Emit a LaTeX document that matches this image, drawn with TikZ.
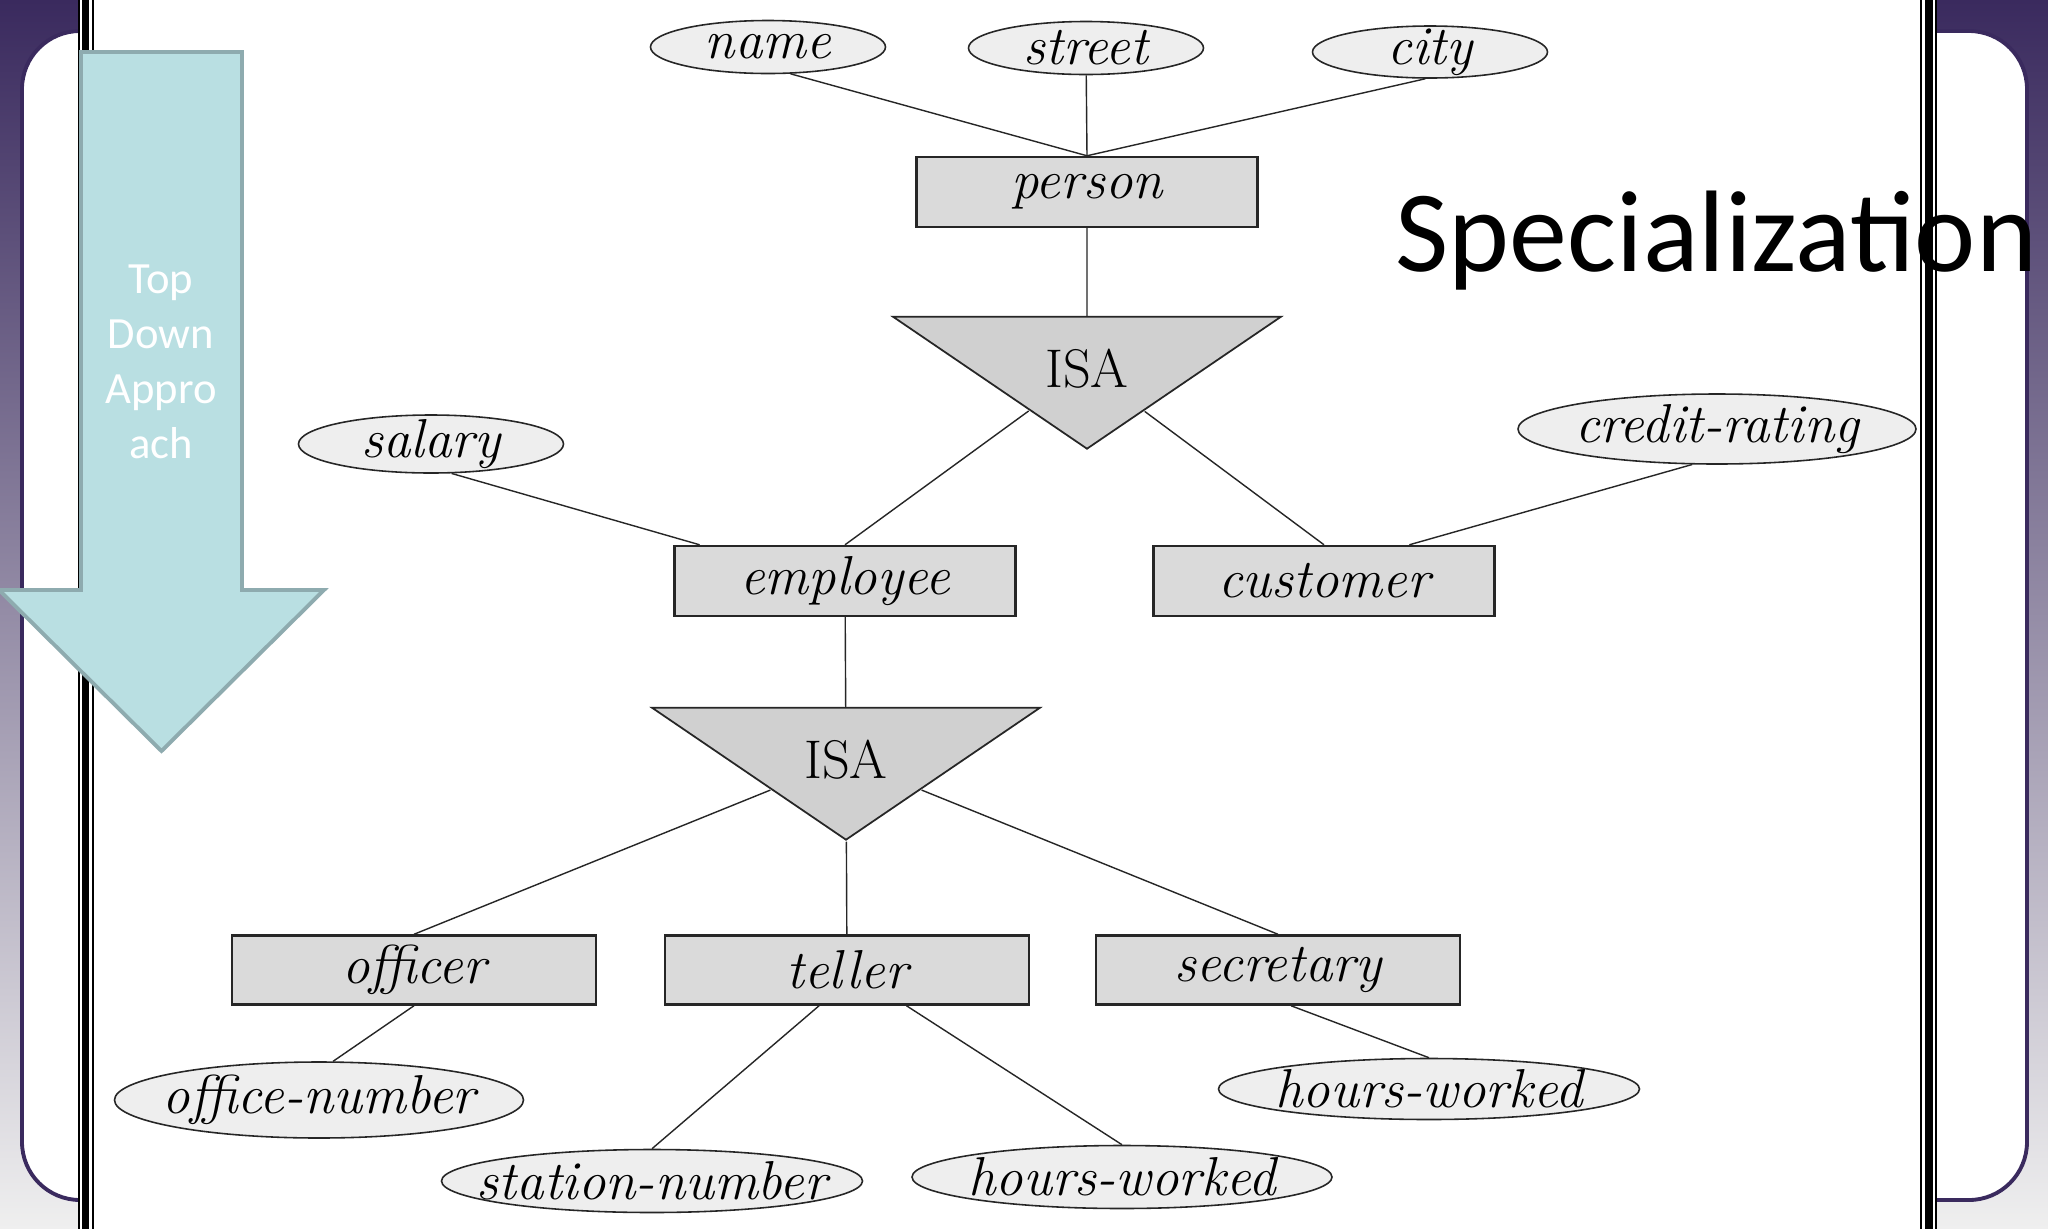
\documentclass[tikz,border=0pt]{standalone}
\usepackage{fontspec}
\usepackage{tikz}
\usetikzlibrary{arrows.meta,positioning,shapes.geometric}
\newfontfamily\slidefont{Carlito}
\definecolor{Plum}{HTML}{3A2A5E}
\definecolor{PaleSlide}{HTML}{EFEFEF}
\definecolor{EntGrey}{HTML}{DADADA}
\definecolor{IsaGrey}{HTML}{D0D0D0}
\definecolor{AttGrey}{HTML}{EEEEEE}
\definecolor{ArrowFill}{HTML}{B9DFE2}
\definecolor{ArrowEdge}{HTML}{8EABAF}

\begin{document}
\begin{tikzpicture}[
  ent/.style={draw=black!85,line width=0.7pt,fill=EntGrey,minimum width=3.41cm,
    minimum height=0.7cm,inner sep=0pt,font=\fontsize{15.6}{17}\selectfont\itshape},
  att/.style={ellipse,draw=black!85,line width=0.45pt,fill=AttGrey,inner xsep=-1cm,
    inner ysep=-0.2cm,font=\fontsize{15.6}{17}\selectfont\itshape},
  isa/.style={isosceles triangle,isosceles triangle stretches,shape border rotate=270,
    draw=black!85,line width=0.5pt,fill=IsaGrey,minimum width=3.88cm,
    minimum height=1.32cm,inner sep=-4pt,font=\fontsize{15.5}{17}\selectfont},
  lnk/.style={draw=black!85,line width=0.4pt},
  bigarr/.style={fill=ArrowFill,draw=ArrowEdge,line width=1.1pt,line join=miter}
]
  \useasboundingbox (0,0) rectangle (20.48,-12.29);

  % slide frame
  \shade[top color=Plum,middle color=Plum!45!PaleSlide,bottom color=PaleSlide]
    (0,0) rectangle (20.48,-12.29);
  \draw[Plum,fill=white,line width=1.1pt,rounded corners=0.58cm]
    (0.22,-0.31) rectangle (20.27,-12.0);
  \fill[white] (0.78,0) rectangle (19.37,-12.29);
  \foreach \x/\w in {0.79/0.02,0.855/0.07,0.93/0.02,19.21/0.02,19.29/0.08,19.36/0.02}
    \draw[line width=\w cm] (\x,0) -- (\x,-12.29);

  % top level
  \node[att,minimum width=2.35cm,minimum height=0.53cm] (name) at (7.68,-0.47) {name};
  \node[att,minimum width=2.35cm,minimum height=0.53cm] (street) at (10.86,-0.48) {street};
  \node[att,minimum width=2.35cm,minimum height=0.52cm] (city) at (14.30,-0.52) {city};
  \node[ent] (person) at (10.87,-1.92) {person};
  \node[isa,anchor=apex] (isa1) at (10.87,-4.51) {ISA};
  \draw[lnk] (name.-50) -- (person.north);
  \draw[lnk] (street) -- (person.north);
  \draw[lnk] (city.-100) -- (person.north);
  \draw[lnk] (person) -- (isa1);

  % second level
  \node[att,minimum width=2.65cm,minimum height=0.58cm] (salary) at (4.31,-4.44) {salary};
  \node[att,minimum width=3.98cm,minimum height=0.70cm] (credit) at (17.17,-4.29) {credit-rating};
  \node[ent] (emp) at (8.45,-5.81) {employee};
  \node[ent] (cust) at (13.24,-5.81) {customer};
  \draw[lnk] (isa1) -- (emp.north);
  \draw[lnk] (isa1) -- (cust.north);
  \draw[lnk] (salary.-55) -- (emp.166);
  \draw[lnk] (credit.-125) -- (cust.23);

  % third level
  \node[isa,anchor=apex] (isa2) at (8.46,-8.42) {ISA};
  \node[ent,minimum width=3.64cm,minimum height=0.69cm] (officer) at (4.14,-9.70) {officer};
  \node[ent,minimum width=3.64cm,minimum height=0.69cm] (teller) at (8.47,-9.70) {teller};
  \node[ent,minimum width=3.64cm,minimum height=0.69cm] (sec) at (12.78,-9.70) {secretary};
  \draw[lnk] (emp) -- (isa2);
  \draw[lnk] (isa2) -- (officer.north);
  \draw[lnk] (isa2) -- (teller);
  \draw[lnk] (isa2) -- (sec.north);

  % attributes of the specialised sets
  \node[att,minimum width=4.09cm,minimum height=0.76cm] (onum) at (3.19,-11.00) {office-number};
  \node[att,minimum width=4.21cm,minimum height=0.63cm] (snum) at (6.52,-11.81) {station-number};
  \node[att,minimum width=4.20cm,minimum height=0.63cm] (hwa) at (11.22,-11.77) {hours-worked};
  \node[att,minimum width=4.21cm,minimum height=0.61cm] (hwb) at (14.29,-10.89) {hours-worked};
  \draw[lnk] (officer.south) -- (onum.70);
  \draw[lnk] (teller.232) -- (snum.north);
  \draw[lnk] (teller.329) -- (hwa.north);
  \draw[lnk] (sec.290) -- (hwb.north);

  % direction arrow and title
  \draw[bigarr] (0.81,-0.52) -- (2.42,-0.52) -- (2.42,-5.90) -- (3.24,-5.90)
    -- (1.615,-7.51) -- (-0.01,-5.90) -- (0.81,-5.90) -- cycle;
  \node[font=\slidefont\fontsize{12.7}{15.6}\selectfont,text=white,align=center]
    (tda) at (1.61,-3.62) {Top\\Down\\Appro\\ach};
  \node[font=\slidefont\fontsize{33}{40}\selectfont,anchor=base west,inner sep=0pt]
    (title) at (13.95,-2.71) {Specialization};
\end{tikzpicture}
\end{document}
